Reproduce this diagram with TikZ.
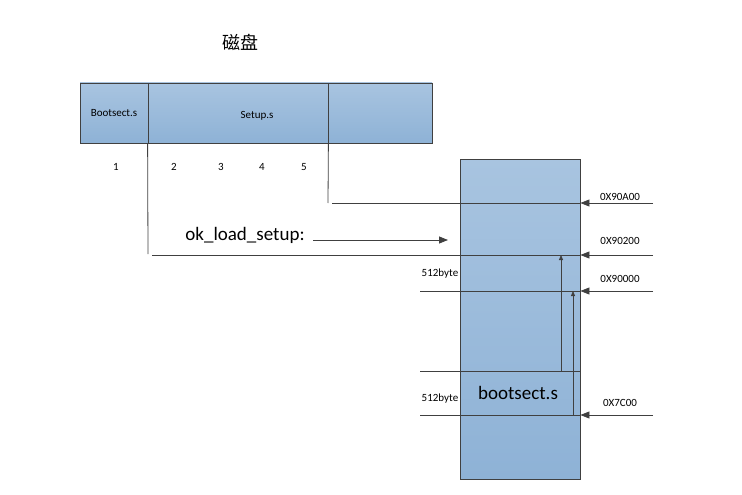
\documentclass[tikz,border=0pt]{standalone}
\usepackage{fontspec}
\setmainfont{Carlito}
\newfontfamily\cjk{Noto Sans CJK SC}
\usetikzlibrary{arrows.meta,positioning}
\definecolor{boxtop}{RGB}{168,196,224}
\definecolor{boxbot}{RGB}{142,178,214}
\definecolor{edge}{RGB}{64,64,64}
\tikzset{
    >={Triangle[length=9pt,width=7pt]},
    blok/.style={
           draw=edge, line width=0.8pt,
           top color=boxtop, bottom color=boxbot,
           minimum height=60pt,
           inner sep=0pt},
    lbl/.style={
           font=\fontsize{11}{12}\selectfont,
           inner sep=0pt},
    big/.style={
           font=\fontsize{19}{22}\selectfont,
           inner sep=0pt},
    lin/.style={
           draw=edge, line width=0.8pt},
    pil/.style={
           lin, ->},
    upil/.style={
           lin, -{Triangle[length=5pt,width=4pt]}}
}
\begin{document}
\begin{tikzpicture}[x=1pt,y=-1pt]
          \useasboundingbox (0,0) rectangle (742,495);
          % disk
          \node[font=\cjk\fontsize{18}{20}\selectfont, inner sep=0pt](title) at (240,42) {磁盘};
          \node[blok, minimum width=68pt, lbl](boot) at (114,113) {Bootsect.s};
          \node[blok, minimum width=180pt](setup) at (238,113) {};
          \node[blok, minimum width=104pt](rest) at (380,113) {};
          \node[lbl](setuptxt) at (257,116) {Setup.s};
          \node[lbl](n1) at (116,167) {1};
          \node[lbl](n2) at (174,167) {2};
          \node[lbl](n3) at (221,167) {3};
          \node[lbl](n4) at (262,167) {4};
          \node[lbl](n5) at (304,167) {5};
          % memory
          \node[blok, minimum width=120pt, minimum height=320pt](mem) at (520,319) {};
          \node[big](bootmem) at (518,393) {bootsect.s};
          \node[big](okload) at (245,235) {ok\_load\_setup:};
          \node[lbl](b1) at (440,274) {512byte};
          \node[lbl](b2) at (440,399) {512byte};
          \node[lbl](a1) at (620,197) {0X90A00};
          \node[lbl](a2) at (620,241) {0X90200};
          \node[lbl](a3) at (620,279) {0X90000};
          \node[lbl](a4) at (620,403) {0X7C00};
          \coordinate (h1) at (332,203);
          \coordinate (h2) at (152,255);
          \coordinate (h3) at (420,291);
          \coordinate (h4) at (420,371);
          \coordinate (h5) at (420,415);
          \coordinate (d1) at (148,254);
          \coordinate (d2) at (328,203);
          \coordinate (r1) at (653,203);
          \coordinate (r2) at (653,255);
          \coordinate (r3) at (653,291);
          \coordinate (r4) at (653,415);
          \coordinate (ok1) at (313,240);
          \coordinate (ok2) at (448,240);
          \coordinate (u1) at (561,371);
          \coordinate (u2) at (573,415);
          \draw[lin] (setup.south west) -- (d1);
          \draw[lin] (setup.south east) -- (d2);
          \draw[lin] (h1) -- (h1 -| mem.east);
          \draw[lin] (h2) -- (h2 -| mem.east);
          \draw[lin] (h3) -- (h3 -| mem.east);
          \draw[lin] (h4) -- (h4 -| mem.east);
          \draw[lin] (h5) -- (h5 -| mem.east);
          \draw[pil] (r1) -- (r1 -| mem.east);
          \draw[pil] (r2) -- (r2 -| mem.east);
          \draw[pil] (r3) -- (r3 -| mem.east);
          \draw[pil] (r4) -- (r4 -| mem.east);
          \draw[pil] (ok1) -- (ok2);
          \draw[upil] (u1) -- (u1 |- h2);
          \draw[upil] (u2) -- (u2 |- h3);
\end{tikzpicture}
\end{document}
